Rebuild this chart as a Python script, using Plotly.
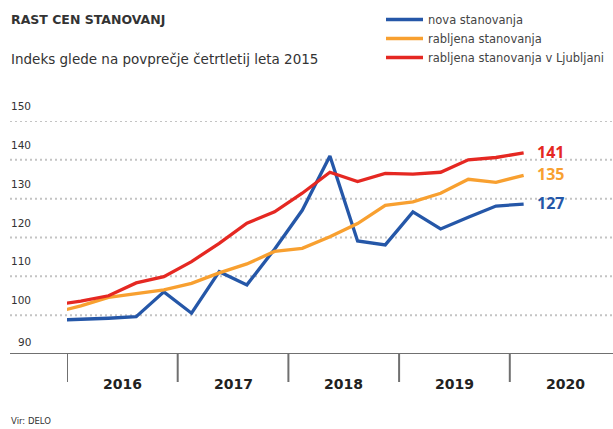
import plotly.graph_objects as go

# ---- data ----
quarters = ["2015Q4",
            "2016Q1", "2016Q2", "2016Q3", "2016Q4",
            "2017Q1", "2017Q2", "2017Q3", "2017Q4",
            "2018Q1", "2018Q2", "2018Q3", "2018Q4",
            "2019Q1", "2019Q2", "2019Q3", "2019Q4",
            "2020Q1"]
nova = [98.7, 98.9, 99.2, 99.6, 106.0, 100.5, 111.2, 107.8, 117.0,
        127.0, 141.0, 119.1, 118.1, 126.6, 122.2, 125.2, 128.1, 128.6]
rabljena = [100.6, 102.4, 104.6, 105.5, 106.5, 108.2, 110.9, 113.2, 116.4,
            117.2, 120.2, 123.6, 128.3, 129.2, 131.4, 135.0, 134.2, 136.0]
ljubljana = [102.6, 103.6, 105.0, 108.3, 109.9, 113.8, 118.5, 123.7, 126.6,
             131.4, 136.8, 134.4, 136.5, 136.3, 136.8, 140.0, 140.6, 141.8]
series_names = ["nova stanovanja", "rabljena stanovanja", "rabljena stanovanja v Ljubljani"]
end_labels = ["127", "135", "141"]
years = [2016, 2017, 2018, 2019, 2020]
y_ticks = [90, 100, 110, 120, 130, 140, 150]

title = "RAST CEN STANOVANJ"
subtitle = "Indeks glede na povprečje četrtletij leta 2015"
source = "Vir: DELO"

# ---- layout geometry (pixels) ----
W, H = 613, 429
L, R, T, B = 67, 0, 121, 75
PW, PH = W - L - R, H - T - B


def px_x(px):
    return (px - L) / PW


def px_y(py):
    return (H - B - py) / PH


def qpos(q):
    y, n = q.split("Q")
    return int(y) + (int(n) - 0.5) / 4


xs = [qpos(q) for q in quarters]
colors = ["#2557a8", "#f8a030", "#e52822"]
FONT = "DejaVu Sans"
BFONT = "Open Sans"

fig = go.Figure()
for name, vals, col in zip(series_names, [nova, rabljena, ljubljana], colors):
    fig.add_trace(go.Scatter(x=xs, y=vals, mode="lines", name=name,
                             line=dict(color=col, width=3.3)))

shapes = []
# dotted gridlines
for v in y_ticks[1:]:
    shapes.append(dict(type="line", xref="paper", yref="y", x0=px_x(10), x1=1,
                       y0=v, y1=v, line=dict(color="#c4c4c4", width=2, dash="2px,3px"),
                       layer="below"))
# axis line
shapes.append(dict(type="line", xref="paper", yref="y", x0=px_x(10), x1=1,
                   y0=y_ticks[0], y1=y_ticks[0], line=dict(color="#707070", width=2)))
# year separators
for yr in years:
    shapes.append(dict(type="line", xref="x", yref="paper", x0=yr, x1=yr,
                       y0=px_y(354), y1=px_y(382), line=dict(color="#707070", width=2)))

ann = []
for v in y_ticks:
    ann.append(dict(xref="paper", yref="y", x=px_x(33), y=v, yshift=15 if v > 90 else 12,
                    text=str(v), showarrow=False, xanchor="right", yanchor="middle",
                    font=dict(family=FONT, size=10.5, color="#333333")))
for yr in years:
    ann.append(dict(xref="x", yref="paper", x=yr + 0.5, y=px_y(384), text="<b>%d</b>" % yr,
                    showarrow=False, xanchor="center", yanchor="middle",
                    font=dict(family=FONT, size=14, color="#222222")))
for vals, col, lab in zip([nova, rabljena, ljubljana], colors, end_labels):
    ann.append(dict(xref="x", yref="y", x=xs[-1], y=vals[-1], xshift=11, yshift=1,
                    text="<b>%s</b>" % lab, showarrow=False, xanchor="left", yanchor="middle",
                    font=dict(family=BFONT, size=16, color=col)))
ann.append(dict(xref="paper", yref="paper", x=px_x(9), y=px_y(19), text="<b>%s</b>" % title,
                showarrow=False, xanchor="left", yanchor="middle",
                font=dict(family=FONT, size=12.5, color="#333333")))
ann.append(dict(xref="paper", yref="paper", x=px_x(9), y=px_y(59), text=subtitle,
                showarrow=False, xanchor="left", yanchor="middle",
                font=dict(family=FONT, size=13.5, color="#333333")))
ann.append(dict(xref="paper", yref="paper", x=px_x(9), y=px_y(421), text=source,
                showarrow=False, xanchor="left", yanchor="middle",
                font=dict(family=FONT, size=8.5, color="#333333")))

year_w = 110.7
fig.update_layout(
    width=W, height=H,
    margin=dict(l=L, r=R, t=T, b=B, pad=0),
    paper_bgcolor="white", plot_bgcolor="white",
    xaxis=dict(range=[2016, 2016 + PW / year_w], showgrid=False, zeroline=False,
               showticklabels=False, ticks="", showline=False, fixedrange=True),
    yaxis=dict(range=[90, 150], showgrid=False, zeroline=False,
               showticklabels=False, ticks="", showline=False, fixedrange=True),
    shapes=shapes, annotations=ann,
    showlegend=True,
    legend=dict(x=px_x(381), y=px_y(5), xanchor="left", yanchor="top",
                font=dict(family=FONT, size=11.5, color="#444444"),
                bgcolor="rgba(0,0,0,0)", tracegroupgap=0, itemwidth=37),
)

fig.write_html("out.html", config={"displayModeBar": False},
               post_script="document.body.style.margin='0px';document.body.style.padding='0px';")
